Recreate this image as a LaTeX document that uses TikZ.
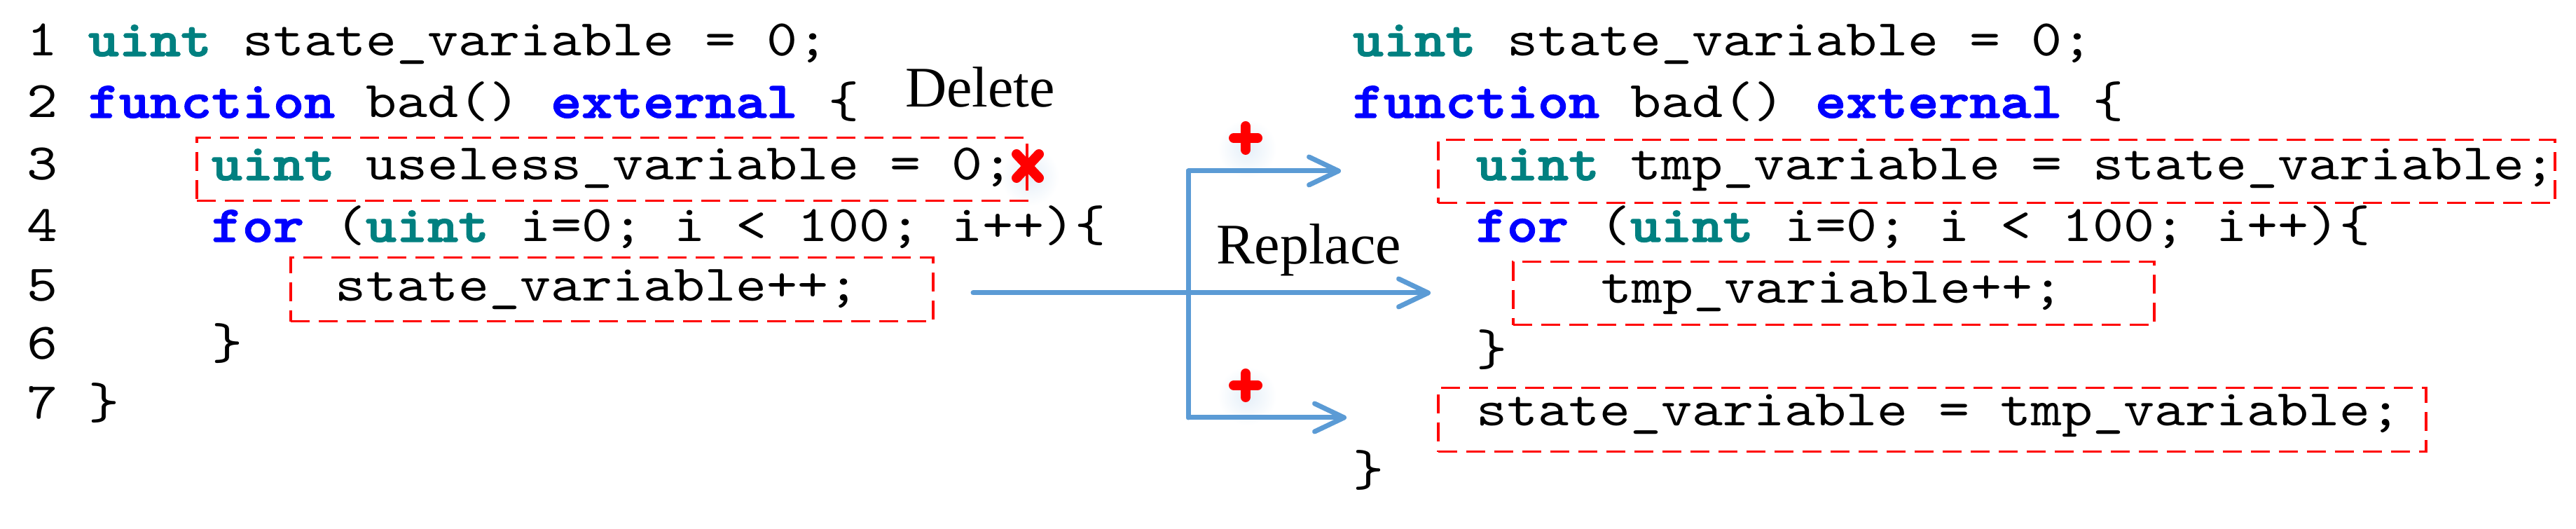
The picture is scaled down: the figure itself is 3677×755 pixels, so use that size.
\documentclass[tikz,border=0pt]{standalone}
\usepackage{fontspec}
\setmainfont{Liberation Serif}
\setmonofont{lmmono10-regular.otf}[FakeStretch=1.143, BoldFont=lmmonolt10-bold.otf,
  BoldFeatures={FakeBold=2}]
\usetikzlibrary{arrows.meta}

\definecolor{typeteal}{HTML}{008080}
\definecolor{keyblue}{HTML}{0000FF}
\definecolor{editred}{HTML}{FF0000}
\definecolor{flowblue}{HTML}{5B9BD5}

\newcommand\codefont{\ttfamily\fontsize{14.67pt}{17pt}\selectfont\frenchspacing}
\newcommand\tkw[1]{\textbf{\color{typeteal}#1}}
\newcommand\bkw[1]{\textbf{\color{keyblue}#1}}

\begin{document}
\begin{tikzpicture}[
    x=0.2pt, y=-0.2pt,
    code/.style={font=\codefont, anchor=base west, inner sep=0pt},
    opname/.style={font=\fontsize{16.4pt}{19pt}\selectfont, anchor=base west, inner sep=0pt},
    editbox/.style={draw=editred, line width=0.7pt, dash pattern=on 5.4pt off 2.6pt,
                    anchor=north west, inner sep=0pt},
    flow/.style={draw=flowblue, line width=1.4pt, line join=round, line cap=round,
                 -{Straight Barb[length=8.4pt,width=8pt,round]}},
    redsign/.style={draw=editred, line width=2.8pt, line cap=round},
    glow/.style={inner color=flowblue!16, outer color=white},
]
\useasboundingbox (0,0) rectangle (3677,755);

% soft halos under the red marks
\shade[glow] (1470,252) circle (42);
\foreach \y in {197,550}
  \shade[glow] (1780,\y+15) circle (42);

% edited statements
\node[editbox, minimum width=237pt, minimum height=18pt] (bL3) at (279,195) {};
\node[editbox, minimum width=183.4pt, minimum height=18.2pt] (bL5) at (413,366) {};
\node[editbox, minimum width=318.8pt, minimum height=18pt] (bR3) at (2051,198) {};
\node[editbox, minimum width=183pt, minimum height=18pt] (bR5) at (2158,372) {};
\node[editbox, minimum width=282pt, minimum height=18.2pt] (bR7) at (2051,552) {};

% original contract
\foreach \n/\y in {1/80,2/168,3/257,4/345,5/430,6/513,7/598}
  \node[code] (ln\n) at (37,\y) {\n};
\node[code] (l1) at (125,80) {\tkw{uint} state\_variable = 0;};
\node[code] (l2) at (125,168) {\bkw{function} bad() \bkw{external} \{};
\node[code] (l3) at (301,257) {\tkw{uint} useless\_variable = 0;};
\node[code] (l4) at (301,345) {\bkw{for} (\tkw{uint} i=0; i < 100; i++)\{};
\node[code] (l5) at (477,430) {state\_variable++;};
\node[code] (l6) at (301,513) {\}};
\node[code] (l7) at (125,598) {\}};

% mutated contract
\node[code] (r1) at (1930,80) {\tkw{uint} state\_variable = 0;};
\node[code] (r2) at (1930,168) {\bkw{function} bad() \bkw{external} \{};
\node[code] (r3) at (2106,257) {\tkw{uint} tmp\_variable = state\_variable;};
\node[code] (r4) at (2106,345) {\bkw{for} (\tkw{uint} i=0; i < 100; i++)\{};
\node[code] (r5) at (2284,433) {tmp\_variable++;};
\node[code] (r6) at (2106,522) {\}};
\node[code] (r7) at (2106,608) {state\_variable = tmp\_variable;};
\node[code] (r8) at (1930,694) {\}};

\node[opname] (del) at (1291,153) {Delete};
\node[opname] (rep) at (1735,377) {Replace};

% arrows
\coordinate (src) at (1389,418);
\coordinate (jTop) at (1696,244);
\coordinate (jBot) at (1696,596);
\coordinate (aTop) at (1914,244);
\coordinate (aMid) at (2042,418);
\coordinate (aBot) at (1922,596);
\draw[flow] (src) -- (aMid);
\draw[flow] (jBot) |- (aTop);
\draw[flow] (jTop) |- (aBot);

% delete and insert marks
\draw[redsign] (1467,237) ++(-16,-17) -- ++(32,34) (1467,237) ++(16,-17) -- ++(-32,34);
\foreach \y in {197,550}
  \draw[redsign] (1778,\y) ++(-17,0) -- ++(34,0) (1778,\y) ++(0,-17) -- ++(0,34);
\end{tikzpicture}
\end{document}
